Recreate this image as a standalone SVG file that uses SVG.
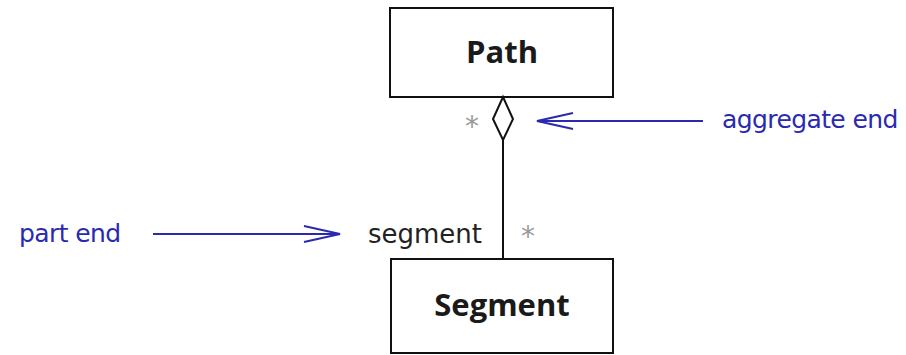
<svg xmlns="http://www.w3.org/2000/svg" width="906" height="355" viewBox="0 0 906 355">
<defs>
<style>
.box{fill:#fff;stroke:#111;stroke-width:2}
.name{font-family:"Open Sans","DejaVu Sans",sans-serif;font-weight:bold;font-size:31px;fill:#1a1a1a;text-anchor:middle}
.lbl{font-family:"DejaVu Sans","Liberation Sans",sans-serif;font-size:26px;fill:#222}
.mult{font-family:"DejaVu Sans",sans-serif;font-size:28px;fill:#999}
.note{font-family:"DejaVu Sans","Liberation Sans",sans-serif;font-size:25px;fill:#2a2ab0;letter-spacing:-0.6px}
.conn{stroke:#111;stroke-width:2;fill:none}
.ann{stroke:#2a2ab0;stroke-width:2;fill:none}
</style>
<marker id="open" viewBox="0 0 40 20" refX="38" refY="10" markerWidth="40" markerHeight="20" markerUnits="userSpaceOnUse" orient="auto">
<path d="M2,2 L38,10 L2,18" fill="none" stroke="#2a2ab0" stroke-width="2"/>
</marker>
</defs>
<rect width="906" height="355" fill="#fff"/>
<g id="Path">
<rect class="box" x="390" y="8" width="223" height="89"/>
<text class="name" x="502" y="63">Path</text>
</g>
<g id="Segment">
<rect class="box" x="391" y="259" width="222" height="94"/>
<text class="name" x="502" y="316">Segment</text>
</g>
<g id="connectors">
<line class="conn" x1="503" y1="140" x2="503" y2="259"/>
<path d="M503,97 L513,119 L503,140 L493,119 Z" fill="#fff" stroke="#111" stroke-width="2"/>
<text class="mult" x="465" y="136">*</text>
<text class="mult" x="521" y="246">*</text>
<text class="lbl" x="368" y="243">segment</text>
</g>
<g id="annotations">
<line class="ann" x1="703" y1="121" x2="537" y2="121" marker-end="url(#open)"/>
<text class="note" x="722" y="128">aggregate end</text>
<line class="ann" x1="153" y1="234" x2="340" y2="234" marker-end="url(#open)"/>
<text class="note" x="19" y="242">part end</text>
</g>
</svg>
